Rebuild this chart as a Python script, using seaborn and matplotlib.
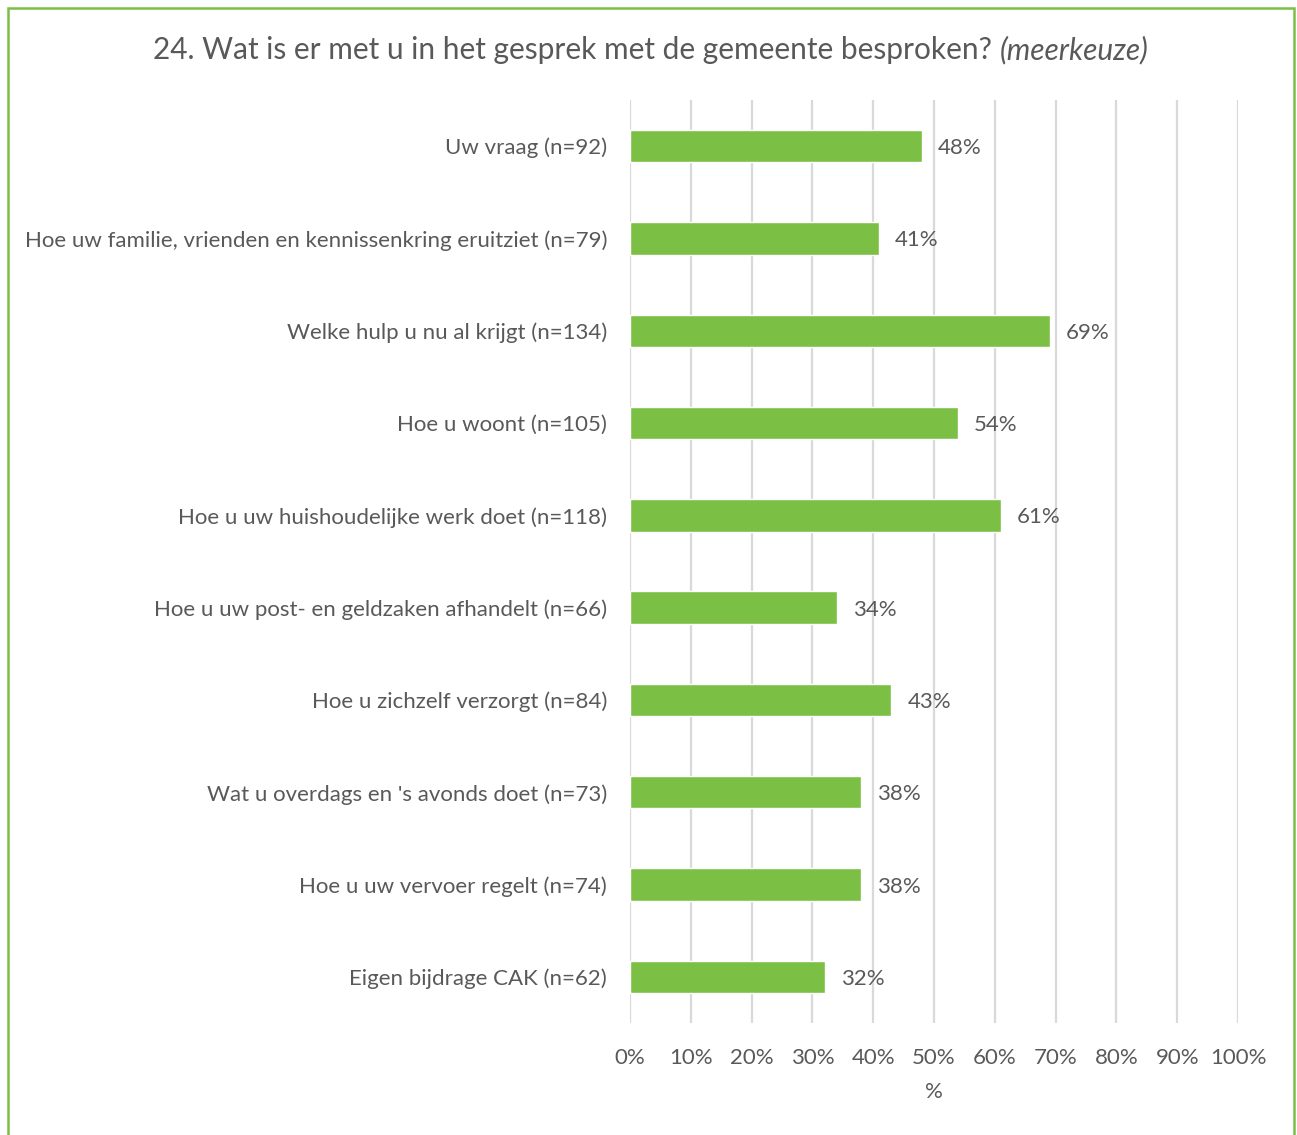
import matplotlib
matplotlib.use("Agg")
import matplotlib.pyplot as plt
import seaborn as sns
import pandas as pd
from matplotlib.patches import Rectangle

categories = [
    "Uw vraag (n=92)",
    "Hoe uw familie, vrienden en kennissenkring eruitziet (n=79)",
    "Welke hulp u nu al krijgt (n=134)",
    "Hoe u woont (n=105)",
    "Hoe u uw huishoudelijke werk doet (n=118)",
    "Hoe u uw post- en geldzaken afhandelt (n=66)",
    "Hoe u zichzelf verzorgt (n=84)",
    "Wat u overdags en 's avonds doet (n=73)",
    "Hoe u uw vervoer regelt (n=74)",
    "Eigen bijdrage CAK (n=62)",
]
values = [48, 41, 69, 54, 61, 34, 43, 38, 38, 32]
xticks = [0, 10, 20, 30, 40, 50, 60, 70, 80, 90, 100]
xticklabels = [f"{t}%" for t in xticks]
title_main = "24. Wat is er met u in het gesprek met de gemeente besproken? "
title_italic = "(meerkeuze)"
xlabel = "%"

sns.set_theme(style="white")
plt.rcParams['font.family'] = ['Lato', 'DejaVu Sans']

TXT = "#595959"
GREEN = "#7cbf45"
GRID = "#d9d9d9"
FS = 16

df = pd.DataFrame({"cat": categories, "val": values})

fig = plt.figure(figsize=(12.97, 11.35), dpi=100)
ax = fig.add_axes([630/1297, 1 - 1023/1135, (1238-630)/1297, (1023-100)/1135])

sns.barplot(data=df, x="val", y="cat", color=GREEN, saturation=1, width=0.35, ax=ax, zorder=3)

ax.set_xlim(0, 100)
ax.set_xticks(xticks)
ax.set_xticklabels(xticklabels)
ax.xaxis.grid(True, color=GRID, linewidth=1.6, zorder=0)
ax.yaxis.grid(False)
for s in ax.spines.values():
    s.set_visible(False)
ax.tick_params(axis='x', length=0, pad=18, labelsize=FS, labelcolor=TXT)
ax.tick_params(axis='y', length=0, pad=16.5, labelsize=FS, labelcolor=TXT)
ax.set_ylabel("")
ax.set_xlabel(xlabel, fontsize=FS, color=TXT, labelpad=10)

for i, v in enumerate(values):
    ax.annotate(f"{v}%", xy=(v, i), xytext=(11.5, 0), textcoords="offset points",
                ha="left", va="center_baseline", fontsize=FS, color=TXT)

# border
fig.patches.append(Rectangle((8/1297, -0.05), (1294-8)/1297, 1.05 - 8/1135,
                             transform=fig.transFigure, fill=False,
                             edgecolor="#7cbf45", linewidth=1.8))

# title with italic part
t1 = fig.text(0.5, 1 - 48/1135, title_main, fontsize=21.5, color=TXT, ha="left", va="center_baseline")
t2 = fig.text(0.5, 1 - 48/1135, title_italic, fontsize=21.5, color=TXT, ha="left", va="center_baseline", style="italic")
fig.canvas.draw()
r = fig.canvas.get_renderer()
w1 = t1.get_window_extent(r).width
w2 = t2.get_window_extent(r).width
W = fig.bbox.width
start = 651 - (w1 + w2) / 2
t1.set_x(start / W)
t2.set_x((start + w1) / W)

fig.savefig("out.png", dpi=100)
